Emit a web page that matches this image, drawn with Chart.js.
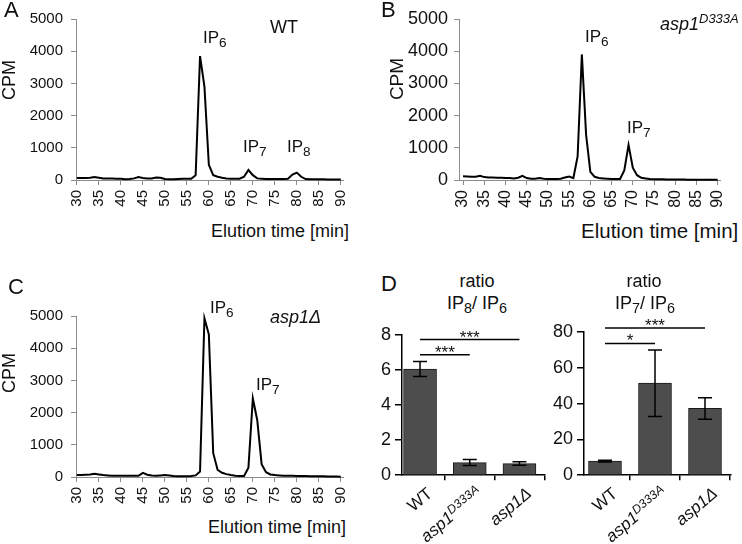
<!DOCTYPE html>
<html><head><meta charset="utf-8">
<script src="https://cdn.jsdelivr.net/npm/chart.js@4.4.1/dist/chart.umd.min.js"></script>
<style>
html,body{margin:0;padding:0;background:#fff}
body{width:742px;height:544px;position:relative;overflow:hidden;font-family:"Liberation Sans",Arial,sans-serif;color:#111}
canvas{position:absolute}
.t{position:absolute;white-space:nowrap;line-height:1;color:#111}
.sb{font-size:0.8em;position:relative;top:0.33em}
.sp{font-size:0.72em;position:relative;top:-0.5em}
</style></head><body>
<canvas id="cA" width="370" height="215" style="left:0;top:0"></canvas>
<canvas id="cB" width="372" height="215" style="left:370px;top:0"></canvas>
<canvas id="cC" width="370" height="215" style="left:0;top:297px"></canvas>
<canvas id="cD1" width="180" height="170" style="left:370px;top:320px"></canvas>
<canvas id="cD2" width="190" height="175" style="left:550px;top:315px"></canvas>
<script>
// ---------- data ----------
const times = [30,31,32,33,34,35,36,37,38,39,40,41,42,43,44,45,46,47,48,49,50,51,52,53,54,55,56,57,58,59,60,61,62,63,64,65,66,67,68,69,70,71,72,73,74,75,76,77,78,79,80,81,82,83,84,85,86,87,88,89,90];
const cpmWT = [60,60,60,70,90,70,50,50,45,40, 40,20,30,50,90,60,50,50,80,70, 30,20,20,30,40,40,40,150,3850,2900, 470,150,100,70,50,40,40,40,100,310, 150,50,40,30,30,30,30,30,40,170, 230,100,30,20,20,20,20,15,15,15, 15];
const cpmD333A = [120,110,100,100,130,90,80,80,70,70, 60,60,50,70,130,60,40,40,60,40, 30,30,30,40,80,110,60,730,3900,1400, 250,100,60,50,40,30,30,30,300,1090, 380,150,70,50,30,20,20,20,15,15, 15,15,15,10,10,10,10,10,10,10, 10];
const cpmDelta = [60,60,70,80,100,80,60,50,40,40, 40,40,40,40,40,130,70,50,40,50, 60,50,30,20,20,20,30,50,170,4930, 4430,740,220,130,90,60,40,30,30,290, 2440,1770,400,150,80,60,50,40,40,40, 30,30,30,25,20,20,20,15,15,15, 10];
const timeTicks = [30,35,40,45,50,55,60,65,70,75,80,85,90];
const cpmTicks = [0,1000,2000,3000,4000,5000];

const strains = ['WT','asp1^D333A','asp1Δ'];
const ratioIP8 = [6.05, 0.72, 0.66];
const errIP8 = [0.43, 0.17, 0.10];
const ratioIP7 = [7.9, 51.4, 37.3];
const errIP7 = [0.5, 18.6, 6.0];
const ratioIP8Ticks = [0,2,4,6,8];
const ratioIP7Ticks = [0,20,40,60,80];
const sigIP8 = [{from:0,to:2,label:'***'},{from:0,to:1,label:'***'}];
const sigIP7 = [{from:0,to:2,label:'***'},{from:0,to:1,label:'*'}];

// ---------- helpers ----------
const FONT = '"Liberation Sans", Arial, sans-serif';
Chart.defaults.font.family = FONT;
Chart.defaults.color = '#111';

function txt(html, x, base, fs, o) {
  o = o || {};
  const d = document.createElement('div');
  d.className = 't'; d.innerHTML = html;
  d.style.fontSize = fs + 'px';
  d.style.left = x + 'px';
  d.style.top = (base - 0.85 * fs) + 'px';
  if (o.italic) d.style.fontStyle = 'italic';
  if (o.center) d.style.transform = 'translateX(-50%)';
  document.body.appendChild(d);
  return d;
}
function vtxt(html, cx, cy, fs) {
  const d = document.createElement('div');
  d.className = 't'; d.innerHTML = html;
  d.style.fontSize = fs + 'px';
  d.style.left = cx + 'px'; d.style.top = cy + 'px';
  d.style.transform = 'translate(-50%,-50%) rotate(-90deg)';
  document.body.appendChild(d);
}
function strainHTML(s) {
  if (s.indexOf('asp1') !== 0) return s;
  const parts = s.split('^');
  return '<i>' + parts[0] + (parts[1] ? '<span class="sp">' + parts[1] + '</span>' : '') + '</i>';
}
const plain = v => String(v);

const AXIS_GRAY = '#8c8c8c';
function linePanel(id, values, g) {
  return new Chart(document.getElementById(id), {
    type: 'line',
    data: { datasets: [{
      data: times.map((t, i) => ({x: t, y: values[i]})),
      borderColor: '#000', borderWidth: 2, pointRadius: 0, tension: 0, clip: false
    }]},
    options: {
      responsive: false, animation: false, events: [],
      layout: { padding: { top: g.top, right: g.right, left: 0, bottom: 0 } },
      plugins: { legend: { display: false }, tooltip: { enabled: false } },
      scales: {
        x: {
          type: 'linear', min: g.xmin, max: g.xmax,
          afterBuildTicks: s => { s.ticks = timeTicks.map(v => ({value: v})); },
          afterFit: s => { s.height = g.xh; },
          border: { color: AXIS_GRAY, width: 1 },
          grid: { drawOnChartArea: false, drawTicks: true, tickLength: 5, color: AXIS_GRAY },
          ticks: { font: { size: g.xfs || 15 }, color: '#111', minRotation: 90, maxRotation: 90, padding: 5, autoSkip: false, callback: plain }
        },
        y: {
          min: 0, max: 5000,
          afterBuildTicks: s => { s.ticks = cpmTicks.map(v => ({value: v})); },
          afterFit: s => { s.width = g.yw; },
          border: { color: AXIS_GRAY, width: 1 },
          grid: { drawOnChartArea: false, drawTicks: true, tickLength: 5, color: AXIS_GRAY },
          ticks: { font: { size: g.yfs || 15 }, color: '#111', padding: g.ypad || 8, callback: plain }
        }
      }
    }
  });
}

const errPlugin = {
  id: 'errSig',
  afterDatasetsDraw(chart, args, o) {
    const ctx = chart.ctx, x = chart.scales.x, y = chart.scales.y;
    ctx.save();
    ctx.strokeStyle = '#000'; ctx.lineWidth = 1.5;
    o.values.forEach((v, i) => {
      const px = x.getPixelForValue(i);
      const t = y.getPixelForValue(v + o.errors[i]), b = y.getPixelForValue(v - o.errors[i]);
      ctx.beginPath();
      ctx.moveTo(px, t); ctx.lineTo(px, b);
      ctx.moveTo(px - 7, t); ctx.lineTo(px + 7, t);
      ctx.moveTo(px - 7, b); ctx.lineTo(px + 7, b);
      ctx.stroke();
    });
    ctx.fillStyle = '#111';
    ctx.font = '17px ' + FONT;
    ctx.textAlign = 'center'; ctx.textBaseline = 'alphabetic';
    o.sig.forEach((s, k) => {
      const x1 = x.getPixelForValue(s.from), x2 = x.getPixelForValue(s.to);
      const py = y.getPixelForValue(o.levels[k]);
      ctx.beginPath(); ctx.moveTo(x1, py); ctx.lineTo(x2, py); ctx.stroke();
      ctx.fillText(s.label, (x1 + x2) / 2, py + 3);
    });
    ctx.restore();
  }
};

function barPanel(id, values, errors, ticks, ymax, sig, levels, g) {
  return new Chart(document.getElementById(id), {
    type: 'bar',
    data: { datasets: [{
      data: strains.map((s, i) => ({x: i, y: values[i]})),
      backgroundColor: '#4d4d4d', borderColor: '#1a1a1a', borderWidth: 1, barThickness: 33
    }]},
    plugins: [errPlugin],
    options: {
      responsive: false, animation: false, events: [],
      layout: { padding: { top: g.top, right: g.right, left: 0, bottom: 0 } },
      plugins: { legend: { display: false }, tooltip: { enabled: false },
        errSig: { values: values, errors: errors, sig: sig, levels: levels } },
      scales: {
        x: {
          type: 'linear', min: g.xmin, max: g.xmax, offset: false,
          afterBuildTicks: s => { s.ticks = strains.map((_, i) => ({value: i})); },
          afterFit: s => { s.height = g.xh; },
          border: { color: '#000', width: 1.5 },
          grid: { drawOnChartArea: false, drawTicks: true, tickLength: 5, color: '#000', lineWidth: 1.5 },
          ticks: { display: false }
        },
        y: {
          min: 0, max: ymax,
          afterBuildTicks: s => { s.ticks = ticks.map(v => ({value: v})); },
          afterFit: s => { s.width = g.yw; },
          border: { color: '#000', width: 1.5 },
          grid: { drawOnChartArea: false, drawTicks: true, tickLength: 7, color: '#000', lineWidth: 1.5 },
          ticks: { font: { size: 18 }, color: '#111', padding: 4, callback: plain }
        }
      }
    }
  });
}

// ---------- charts ----------
linePanel('cA', cpmWT, {top: 19, right: 27, yw: 76, xh: 35, xmin: 29.8, xmax: 90.5});
linePanel('cB', cpmD333A, {top: 19, right: 14, yw: 89, xh: 35, xmin: 29.05, xmax: 90.57, yfs: 18, xfs: 16, ypad: 6});
linePanel('cC', cpmDelta, {top: 19, right: 27, yw: 76, xh: 35, xmin: 29.8, xmax: 90.5});
const d1 = barPanel('cD1', ratioIP8, errIP8, ratioIP8Ticks, 8, sigIP8, [7.73, 6.86],
  {top: 13, right: 5, yw: 32, xh: 9, xmin: -0.363, xmax: 2.514});
const d2 = barPanel('cD2', ratioIP7, errIP7, ratioIP7Ticks, 80, sigIP7, [82.3, 73.6],
  {top: 17, right: 9, yw: 34, xh: 8, xmin: -0.42, xmax: 2.52});

// ---------- text ----------
const SB = s => 'IP<span class="sb">' + s + '</span>';
// panel letters
txt('A', 4, 18, 22); txt('B', 381, 18, 22); txt('C', 8, 295, 22); txt('D', 381, 292, 22);
// axis titles
vtxt('CPM', 9, 80, 18); vtxt('CPM', 396, 79, 19); vtxt('CPM', 9, 373, 18);
txt('Elution time [min]', 211, 237, 18);
txt('Elution time [min]', 581, 238, 20.5);
txt('Elution time [min]', 208, 533, 18);
// annotations A
txt('WT', 270, 33, 18);
txt(SB('6'), 203, 43, 17); txt(SB('7'), 243, 152, 17); txt(SB('8'), 287, 152, 17);
// annotations B
txt('asp1<span class="sp">D333A</span>', 660, 30, 18, {italic: true});
txt(SB('6'), 585, 42, 17); txt(SB('7'), 627, 133, 17);
// annotations C
txt('asp1Δ', 270, 323, 18, {italic: true});
txt(SB('6'), 210, 313, 17); txt(SB('7'), 256, 390, 17);
// D titles
txt('ratio', 477, 287, 18, {center: true});
txt(SB('8') + '/ ' + SB('6'), 477, 309, 18, {center: true});
txt('ratio', 644, 287, 18, {center: true});
txt(SB('7') + '/ ' + SB('6'), 645, 309, 18, {center: true});

// D category labels, anchored through the bar charts' x scales
function catLabels(chart, left, top) {
  const xs = chart.scales.x, axisY = chart.chartArea.bottom + top;
  strains.forEach((s, i) => {
    const px = xs.getPixelForValue(i) + left;
    const d = document.createElement('div');
    d.className = 't'; d.innerHTML = strainHTML(s);
    d.style.fontSize = '17px';
    d.style.left = (px + 10) + 'px'; d.style.top = (axisY + 16) + 'px';
    d.style.transformOrigin = '0 0';
    d.style.transform = 'rotate(-40deg) translate(-100%,-50%)';
    document.body.appendChild(d);
  });
}
catLabels(d1, 370, 320);
catLabels(d2, 550, 315);
</script>
</body></html>
